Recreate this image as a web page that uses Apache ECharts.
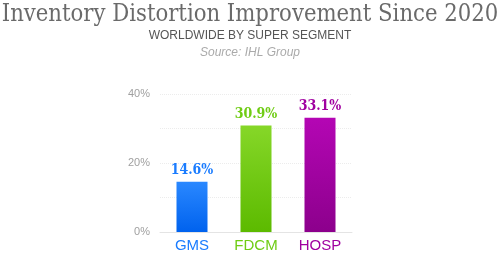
<!DOCTYPE html>
<html><head><meta charset="utf-8">
<script src="https://cdn.jsdelivr.net/npm/echarts@6/dist/echarts.min.js"></script>
<style>html,body{margin:0;padding:0;background:#fff}#c{width:500px;height:255px}</style>
</head><body><div id="c"></div>
<script>
const categories = ['GMS', 'FDCM', 'HOSP'];
const values = [14.6, 30.9, 33.1];
const barColorsTop = ['#2a88ff', '#86d728', '#b406b4'];
const barColorsBottom = ['#0062ee', '#5cba00', '#8c008c'];
const labelColors = ['#1a7cff', '#6fcc14', '#a000a0'];
const tickLabels = {0: '0%', 20: '20%', 40: '40%'};

const chart = echarts.init(document.getElementById('c'), null, {renderer: 'canvas'});
chart.setOption({
  animation: false,
  title: [
    {text: 'Inventory Distortion Improvement Since 2020', left: 'center', top: -2,
     textStyle: {fontFamily: 'DejaVu Serif Condensed', fontWeight: 'normal', fontSize: 23.6, color: '#6a6a6a'}},
    {text: 'WORLDWIDE BY SUPER SEGMENT', left: 'center', top: 25,
     textStyle: {fontFamily: 'Liberation Sans', fontWeight: 'normal', fontSize: 12, color: '#555'}},
    {text: 'Source: IHL Group', left: 'center', top: 42,
     textStyle: {fontFamily: 'Liberation Sans', fontStyle: 'italic', fontWeight: 'normal', fontSize: 12, color: '#aaa'}}
  ],
  grid: {left: 160, right: 148, top: 94, bottom: 23},
  xAxis: {
    type: 'category', data: categories,
    axisLine: {lineStyle: {color: '#e4e4e4'}},
    axisTick: {show: false},
    axisLabel: {fontFamily: 'Liberation Sans', fontSize: 15, margin: 6,
      color: (v, i) => labelColors[i]}
  },
  yAxis: {
    type: 'value', min: 0, max: 40, interval: 10,
    axisLine: {show: false}, axisTick: {show: false},
    axisLabel: {formatter: v => tickLabels[v] || '', fontFamily: 'Liberation Sans', fontSize: 11, color: '#a0a0a0', margin: 10},
    splitLine: {lineStyle: {color: '#ececec', type: 'dotted'}}
  },
  series: [{
    type: 'bar', barWidth: 31,
    data: values.map((v, i) => ({
      value: v,
      itemStyle: {color: new echarts.graphic.LinearGradient(0, 0, 0, 1, [
        {offset: 0, color: barColorsTop[i]}, {offset: 1, color: barColorsBottom[i]}])},
      label: {color: labelColors[i]}
    })),
    label: {show: true, position: 'top', distance: 4, formatter: p => p.value.toFixed(1) + '%',
      fontFamily: 'DejaVu Serif Condensed', fontWeight: 'bold', fontSize: 14}
  }]
});
</script></body></html>
